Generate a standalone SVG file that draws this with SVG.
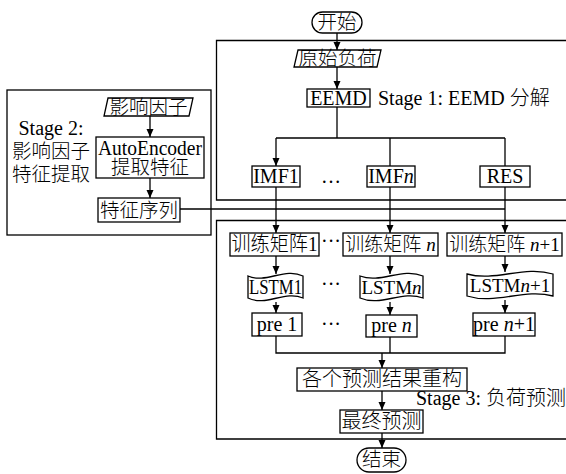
<svg xmlns="http://www.w3.org/2000/svg" width="566" height="474" viewBox="0 0 566 474">
<defs>
<marker id="ah" viewBox="0 0 8 8" refX="8" refY="4" markerWidth="8" markerHeight="8" markerUnits="userSpaceOnUse" orient="auto">
<path d="M0,0.5 L8,4 L0,7.5 Z" fill="#000"/>
</marker>
<style>
.b{fill:#fff;stroke:#000;stroke-width:1.3}
.f{fill:none;stroke:#000;stroke-width:1.3}
.l{fill:none;stroke:#000;stroke-width:1.3}
.a{fill:none;stroke:#000;stroke-width:1.3;marker-end:url(#ah)}
text{font-family:"Liberation Serif","Noto Sans CJK SC",serif;font-size:20px;font-weight:300;fill:#000}
.z{font-size:19.5px}
.s{font-size:19px}
.c{text-anchor:middle}
.i{font-style:italic}
</style>
</defs>
<rect width="566" height="474" fill="#fff"/>

<g id="stage-frames">
<path class="f" d="M566,40.5 H216.5 V200 H566"/>
<rect class="f" x="7" y="90" width="204" height="145"/>
<path class="f" d="M566,220.5 H216.5 V439 H566"/>
</g>

<g id="connectors">
<line class="a" x1="337" y1="33" x2="337" y2="50"/>
<line class="a" x1="337" y1="67" x2="337" y2="89"/>
<polyline class="l" points="337,107 337,138"/>
<polyline class="l" points="276,138 505,138"/>
<line class="a" x1="276" y1="138" x2="276" y2="166"/>
<line class="l" x1="390" y1="138" x2="390" y2="166"/>
<line class="l" x1="505" y1="138" x2="505" y2="166"/>
<line class="a" x1="150" y1="116" x2="150" y2="137"/>
<line class="a" x1="150" y1="178" x2="150" y2="198"/>
<line class="l" x1="180" y1="209" x2="505" y2="209"/>
<line class="a" x1="276" y1="187" x2="276" y2="233"/>
<line class="a" x1="390" y1="187" x2="390" y2="233"/>
<line class="a" x1="505" y1="187" x2="505" y2="233"/>
<line class="a" x1="276" y1="256" x2="276" y2="274"/>
<line class="a" x1="390" y1="256" x2="390" y2="274"/>
<line class="a" x1="505" y1="256" x2="505" y2="272"/>
<line class="a" x1="276" y1="302" x2="276" y2="313"/>
<line class="a" x1="390" y1="302" x2="390" y2="315"/>
<line class="a" x1="505" y1="300" x2="505" y2="313"/>
<polyline class="l" points="276,336 276,353 505,353 505,336"/>
<line class="l" x1="390" y1="337" x2="390" y2="353"/>
<line class="a" x1="382" y1="353" x2="382" y2="368"/>
<line class="a" x1="382" y1="391" x2="382" y2="410"/>
<line class="a" x1="382" y1="433" x2="382" y2="448"/>
</g>

<g id="start">
<rect class="b" x="312" y="12" width="50" height="21" rx="10.5"/>
<text class="c z" x="337" y="29">开始</text>
</g>
<g id="raw-load">
<polygon class="b" points="298,50 381,50 377,67 294,67"/>
<text class="c z" x="337.5" y="65">原始负荷</text>
</g>
<g id="eemd">
<rect class="b" x="307" y="89" width="63" height="18"/>
<text class="c" x="338.5" y="105">EEMD</text>
</g>
<text x="378" y="105">Stage 1: EEMD 分解</text>
<g id="imf1">
<rect class="b" x="252" y="166" width="48" height="21"/>
<text class="c" x="276" y="183">IMF1</text>
</g>
<text class="c" x="331" y="183">…</text>
<g id="imfn">
<rect class="b" x="367" y="166" width="48" height="21"/>
<text class="c" x="391" y="183">IMF<tspan class="i">n</tspan></text>
</g>
<g id="res">
<rect class="b" x="480" y="166" width="50" height="21"/>
<text class="c" x="505" y="183">RES</text>
</g>

<g id="stage2-label">
<text class="c" x="51" y="135">Stage 2:</text>
<text class="c z" x="51" y="158">影响因子</text>
<text class="c z" x="51" y="181">特征提取</text>
</g>
<g id="factors">
<polygon class="b" points="108,98 193,98 189,116 104,116"/>
<text class="c z" x="148.5" y="114">影响因子</text>
</g>
<g id="autoencoder">
<rect class="b" x="96" y="137" width="108" height="41"/>
<text class="c" x="150" y="155" textLength="104" lengthAdjust="spacingAndGlyphs">AutoEncoder</text>
<text class="c z" x="150" y="174">提取特征</text>
</g>
<g id="feature-seq">
<rect class="b" x="98" y="198" width="82" height="24"/>
<text class="c z" x="139" y="217">特征序列</text>
</g>

<g id="train1">
<rect class="b" x="230" y="233" width="89" height="23"/>
<text class="c" x="274.5" y="251" textLength="86" lengthAdjust="spacingAndGlyphs">训练矩阵1</text>
</g>
<text class="c" x="331" y="248">···</text>
<g id="trainn">
<rect class="b" x="343" y="233" width="95" height="23"/>
<text class="c s" x="390.5" y="251">训练矩阵 <tspan class="i">n</tspan></text>
</g>
<g id="trainn1">
<rect class="b" x="447" y="233" width="115" height="23"/>
<text class="c s" x="504.5" y="251">训练矩阵 <tspan class="i">n</tspan>+1</text>
</g>

<g id="lstm1">
<path class="b" d="M248,276 C266,284 285,267 303,276 L303,298 C285,290 266,307 248,298 Z"/>
<text class="c" x="275.5" y="294" textLength="53" lengthAdjust="spacingAndGlyphs">LSTM1</text>
</g>
<text class="c" x="331" y="291">···</text>
<g id="lstmn">
<path class="b" d="M360,276 C381,284 402,267 423,276 L423,298 C402,290 381,307 360,298 Z"/>
<text class="c s" x="391.5" y="294">LSTM<tspan class="i">n</tspan></text>
</g>
<g id="lstmn1">
<path class="b" d="M467,274 C496,282 524,265 553,274 L553,296 C524,288 496,305 467,296 Z"/>
<text class="c s" x="510" y="292">LSTM<tspan class="i">n</tspan>+1</text>
</g>

<g id="pre1">
<rect class="b" x="252" y="313" width="50" height="23"/>
<text class="c" x="277" y="331">pre 1</text>
</g>
<text class="c" x="331" y="331">···</text>
<g id="pren">
<rect class="b" x="366" y="315" width="51" height="22"/>
<text class="c" x="391.5" y="332">pre <tspan class="i">n</tspan></text>
</g>
<g id="pren1">
<rect class="b" x="473" y="313" width="62" height="23"/>
<text class="c" x="504" y="331">pre <tspan class="i">n</tspan>+1</text>
</g>

<g id="reconstruct">
<rect class="b" x="297" y="368" width="170" height="23"/>
<text class="c" x="382" y="386" textLength="160" lengthAdjust="spacing">各个预测结果重构</text>
</g>
<text x="416" y="405">Stage 3: 负荷预测</text>
<g id="final">
<rect class="b" x="340" y="410" width="83" height="23"/>
<text class="c" x="381.5" y="428">最终预测</text>
</g>
<g id="end">
<rect class="b" x="357" y="448" width="49" height="24" rx="12"/>
<text class="c z" x="381.5" y="466">结束</text>
</g>
</svg>
